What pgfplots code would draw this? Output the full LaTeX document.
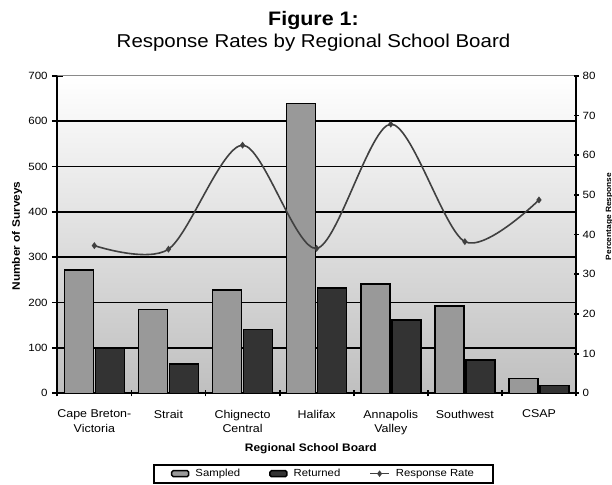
\documentclass[border=0pt]{standalone}
\usepackage{fontspec}
\setmainfont{Liberation Sans}[FakeStretch=1.1]
\usepackage{pgfplots}
\usepackage{pgfplotstable}
\pgfplotsset{compat=1.18}

\definecolor{sampled}{HTML}{999999}
\definecolor{returned}{HTML}{333333}
\definecolor{rateline}{HTML}{404040}
\definecolor{frametop}{HTML}{8A8A8A}

% legend images: rounded boxes for bars, a short marked line for the rate
\pgfplotsset{
  box legend/.style={legend image code/.code={%
    \draw[##1, rounded corners=1.5pt, line width=1.5pt] (0pt,-3pt) rectangle (17pt,3pt);}},
  rate legend/.style={legend image code/.code={%
    \draw[##1, mark repeat=2, mark phase=2]
      plot coordinates {(0pt,0pt) (9.5pt,0pt) (19pt,0pt)};}},
}

% survey counts per board and the share returned (%)
\pgfplotstableread{
idx sampled returned rate
0   272     100      37.2
1   185     65       36.3
2   228     141      62.5
3   639     232      36.5
4   241     161      67.8
5   193     73       38.2
6   33      17       48.7
}\boarddata

\newcommand{\fs}[1]{\fontsize{#1}{#1}\selectfont}

\begin{document}
\begin{tikzpicture}[x=1pt,y=1pt]
% counts on the left axis
\begin{axis}[
  at={(0pt,0pt)}, anchor=south west,
  scale only axis,
  width=518.7pt, height=317.6pt,
  xmin=-0.5, xmax=6.5,
  ymin=0, ymax=700,
  axis x line*=bottom,
  axis y line*=left,
  axis line style={line width=1.8pt, black},
  axis background/.style={top color=white, bottom color=black!25},
  ybar, bar width=29pt,
  box legend,
  tick align=center,
  xtick={0,...,6},
  xticklabels={Cape Breton-\\Victoria, Strait, Chignecto\\Central, Halifax, Annapolis\\Valley, Southwest, CSAP},
  major x tick style={draw=none},
  minor xtick={-0.5,0.5,...,6.5},
  minor tick length=6pt,
  minor x tick style={line width=1.8pt, black},
  xticklabel style={align=center, font=\fontsize{11.3}{14.3}\selectfont, inner sep=0pt, anchor=north, yshift=-11pt},
  ytick={0,100,...,700},
  major tick length=11pt,
  y tick style={line width=1.8pt, black},
  yticklabel style={font=\fs{10.5}, inner sep=0pt, anchor=east, xshift=-4pt},
  /pgf/number format/assume math mode=true,
  extra y ticks={100,200,...,600},
  extra y tick labels={},
  extra y tick style={grid=major, major tick length=0pt},
  grid style={line width=1.8pt, black},
  legend columns=3,
  legend style={at={(axis description cs:0.5132,-0.253)}, anchor=center,
    draw=black, line width=1.8pt, font=\fs{10.3},
    inner xsep=17pt, inner ysep=2.5pt,
    /tikz/every odd column/.append style={column sep=4pt},
    /tikz/every even column/.append style={column sep=27pt}},
]
\addplot[fill=sampled, draw=black, line width=1.6pt] table[x=idx, y=sampled]{\boarddata};
\addlegendentry{Sampled}
\addplot[fill=returned, draw=black, line width=1.6pt] table[x=idx, y=returned]{\boarddata};
\addlegendentry{Returned}
\addlegendimage{rate legend, sharp plot, rateline, line width=1.6pt, mark=diamond*, mark size=2pt,
  mark options={solid, fill=rateline}}
\addlegendentry{Response Rate}
\draw[frametop, line width=1.2pt] (axis cs:-0.5,700) -- (axis cs:6.5,700);
\end{axis}

% response rate on the right axis
\begin{axis}[
  at={(0pt,0pt)}, anchor=south west,
  scale only axis,
  width=518.7pt, height=317.6pt,
  xmin=-0.5, xmax=6.5,
  ymin=0, ymax=80,
  axis x line=none,
  axis y line*=right,
  axis line style={line width=1.8pt, black},
  tick align=center,
  ytick={0,10,...,80},
  major tick length=5pt,
  y tick style={line width=1.8pt, black},
  yticklabel style={font=\fs{10.5}, inner sep=0pt, anchor=west, xshift=4pt},
  /pgf/number format/assume math mode=true,
]
\addplot[rateline, line width=1.6pt, smooth, mark=diamond*, mark size=2.2pt,
  mark options={fill=rateline}] table[x=idx, y=rate]{\boarddata};
\end{axis}

% titles and axis labels
\node[anchor=base, font=\bfseries\fs{19.5}] at (256.2,367.3) {Figure 1:};
\node[anchor=base, font=\fs{18.6}] at (256.2,345.3) {Response Rates by Regional School Board};
\node[anchor=base, font=\bfseries\fs{10.9}] at (253.5,-58.4) {Regional School Board};
\node[anchor=base, rotate=90, font=\bfseries\fs{10.8}] at (-37.3,157.3) {Number of Surveys};
\node[anchor=base, rotate=90, font=\bfseries\fs{7.6}] at (553.7,176.8) {Percentage Response};

\pgfresetboundingbox
\useasboundingbox (-57.3,-90.7) rectangle (554.7,393.3);
\end{tikzpicture}
\end{document}
